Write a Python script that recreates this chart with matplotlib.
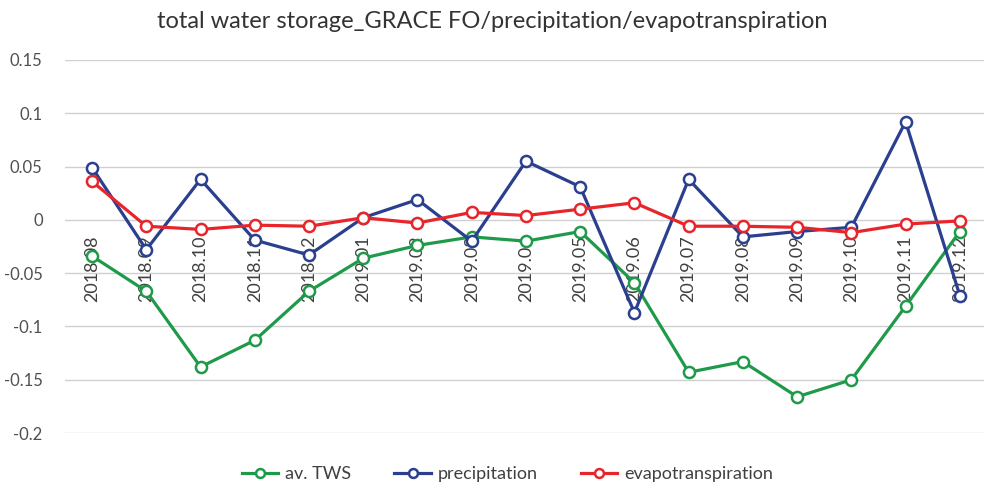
import matplotlib.pyplot as plt

months = ["2018.08", "2018.09", "2018.10", "2018.11", "2018.12", "2019.01",
          "2019.02", "2019.03", "2019.04", "2019.05", "2019.06", "2019.07",
          "2019.08", "2019.09", "2019.10", "2019.11", "2019.12"]
tws = [-0.034, -0.067, -0.138, -0.113, -0.067, -0.036, -0.024, -0.016, -0.020,
       -0.011, -0.059, -0.143, -0.133, -0.166, -0.150, -0.081, -0.011]
precip = [0.049, -0.028, 0.038, -0.019, -0.033, 0.002, 0.019, -0.020, 0.055,
          0.031, -0.087, 0.038, -0.016, -0.011, -0.007, 0.092, -0.071]
evap = [0.036, -0.006, -0.009, -0.005, -0.006, 0.002, -0.003, 0.007, 0.004,
        0.010, 0.016, -0.006, -0.006, -0.007, -0.012, -0.004, -0.001]
yticks = [-0.2, -0.15, -0.1, -0.05, 0, 0.05, 0.1, 0.15]
ytick_labels = ["-0.2", "-0.15", "-0.1", "-0.05", "0", "0.05", "0.1", "0.15"]

plt.rcParams['font.family'] = ['Lato', 'DejaVu Sans']

fig = plt.figure(figsize=(9.84, 4.91), dpi=100)
ax = fig.add_axes([0.066, 0.118, 0.937, 0.76])

x = range(len(months))
style = dict(lw=2.3, marker='o', ms=8, mfc='white', mew=1.8)
ax.plot(x, tws, color='#1f9a4a', label='av. TWS', zorder=3, **style)
ax.plot(x, precip, color='#2b3f8f', label='precipitation', zorder=4, **style)
ax.plot(x, evap, color='#e8252b', label='evapotranspiration', zorder=5, **style)

# category labels sit just under the zero line
for i, m in enumerate(months):
    ax.annotate(m, (i, 0), xytext=(0, -11), textcoords='offset points',
                rotation=90, ha='center', va='top', fontsize=13,
                color='#404040', zorder=2)

ax.set_xlim(-0.5, len(months) - 0.5)
ax.set_ylim(-0.2, 0.15)
ax.set_yticks(yticks)
ax.set_yticklabels(ytick_labels, fontsize=12, color='#505050')
ax.set_xticks([])
ax.tick_params(axis='y', length=0, pad=16)
ax.grid(axis='y', color='#d0d0d0', lw=1)
ax.set_axisbelow(True)
for s in ax.spines.values():
    s.set_visible(False)

fig.suptitle('total water storage_GRACE FO/precipitation/evapotranspiration',
             y=0.978, fontsize=17, color='#333333')
ax.legend(loc='upper center', bbox_to_anchor=(0.48, -0.045), ncol=3,
          frameon=False, fontsize=13, handlelength=2.0, columnspacing=2.4,
          handletextpad=0.4, labelcolor='#404040', markerscale=0.8)

fig.savefig('out.png', dpi=100)
